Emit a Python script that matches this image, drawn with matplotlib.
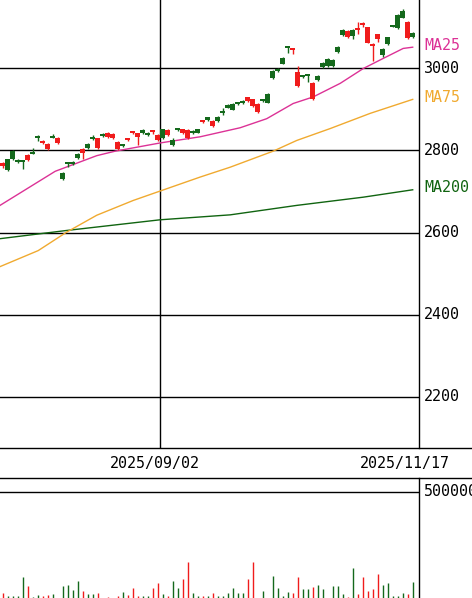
import matplotlib
matplotlib.use('Agg')
import matplotlib.pyplot as plt
from matplotlib.lines import Line2D
import numpy as np

plt.rcParams['font.family'] = ['DejaVu Sans Mono']

# daily candles, oldest first
opens = [2770, 2751, 2778, 2771, 2771, 2788, 2792, 2830, 2822, 2816,
         2831, 2831, 2731, 2766, 2766, 2782, 2804, 2806, 2827, 2829,
         2835, 2843, 2839, 2820, 2811, 2829, 2844, 2841, 2841, 2837,
         2846, 2838, 2829, 2849, 2812, 2850, 2851, 2849, 2842, 2843,
         2873, 2875, 2871, 2872, 2891, 2904, 2899, 2912, 2914, 2929,
         2924, 2912, 2919, 2916, 2975, 2993, 3011, 3048, 3045, 2991,
         2978, 2980, 2965, 2971, 3003, 3006, 3005, 3040, 3081, 3091,
         3078, 3095, 3109, 3099, 3059, 3082, 3032, 3059, 3101, 3097,
         3123, 3112, 3075]
closes = [2761, 2778, 2798, 2776, 2773, 2776, 2796, 2832, 2818, 2804,
          2833, 2818, 2745, 2768, 2771, 2790, 2794, 2816, 2829, 2806,
          2839, 2833, 2829, 2804, 2813, 2824, 2842, 2833, 2849, 2843,
          2844, 2824, 2851, 2838, 2824, 2852, 2842, 2829, 2847, 2851,
          2869, 2877, 2859, 2881, 2893, 2910, 2912, 2916, 2920, 2920,
          2908, 2894, 2921, 2938, 2993, 2999, 3025, 3050, 3043, 2956,
          2980, 2982, 2924, 2981, 3012, 3022, 3020, 3052, 3094, 3075,
          3094, 3093, 3105, 3062, 3054, 3071, 3046, 3075, 3103, 3129,
          3139, 3074, 3086]
highs = [2772, 2780, 2801, 2778, 2775, 2790, 2805, 2837, 2824, 2818,
         2839, 2833, 2747, 2770, 2773, 2794, 2806, 2818, 2837, 2831,
         2841, 2845, 2841, 2822, 2815, 2831, 2847, 2843, 2851, 2845,
         2849, 2840, 2853, 2851, 2829, 2854, 2853, 2851, 2849, 2853,
         2875, 2881, 2873, 2883, 2902, 2912, 2914, 2918, 2922, 2931,
         2926, 2914, 2923, 2940, 2995, 3001, 3027, 3052, 3047, 3006,
         2982, 2984, 2967, 2983, 3014, 3024, 3022, 3054, 3096, 3093,
         3096, 3113, 3113, 3101, 3061, 3084, 3048, 3077, 3105, 3131,
         3143, 3114, 3088]
lows = [2758, 2749, 2776, 2769, 2754, 2774, 2790, 2823, 2816, 2802,
        2829, 2816, 2729, 2759, 2764, 2780, 2780, 2804, 2824, 2804,
        2833, 2831, 2827, 2802, 2809, 2822, 2839, 2812, 2839, 2835,
        2839, 2822, 2827, 2836, 2810, 2848, 2840, 2827, 2840, 2841,
        2867, 2871, 2857, 2870, 2885, 2902, 2897, 2910, 2912, 2918,
        2906, 2891, 2917, 2914, 2973, 2991, 3009, 3038, 3034, 2954,
        2976, 2967, 2922, 2969, 3001, 3004, 3003, 3038, 3079, 3073,
        3072, 3083, 3100, 3060, 3018, 3064, 3026, 3057, 3100, 3095,
        3121, 3070, 3073]
volumes = [25000, 11000, 11000, 11000, 100000, 58000, 6000, 14000, 11000, 14000,
           17000, 0, 58000, 61000, 39000, 80000, 33000, 17000, 17000, 22000,
           0, 6000, 0, 11000, 30000, 14000, 46000, 11000, 11000, 11000,
           49000, 72000, 17000, 11000, 82000, 49000, 90000, 171000, 25000, 11000,
           11000, 11000, 22000, 11000, 11000, 22000, 49000, 25000, 22000, 90000,
           171000, 0, 34000, 0, 105000, 49000, 11000, 30000, 22000, 100000,
           41000, 41000, 53000, 61000, 44000, 0, 58000, 58000, 17000, 6000,
           143000, 17000, 98000, 34000, 41000, 113000, 61000, 69000, 11000, 11000,
           22000, 17000, 77000]

# moving averages at a few points (candle index, price)
ma25_x = [-0.54, 10.5, 18.8, 22.5, 31.5, 39.5, 47.5, 52.8, 58.1, 62.1, 67.5, 72.1, 75.5, 80.1, 82.0]
ma25_y = [2666, 2749, 2787, 2798, 2818, 2833, 2855, 2877, 2914, 2930, 2963, 2999, 3020, 3048, 3051]
ma75_x = [-0.54, 7.1, 12.8, 18.8, 26.1, 31.5, 39.5, 45.5, 54.1, 58.8, 65.5, 73.5, 82.0]
ma75_y = [2517, 2556, 2601, 2642, 2678, 2701, 2735, 2759, 2798, 2824, 2853, 2890, 2924]
ma200_x = [-0.54, 12.8, 31.5, 45.5, 58.8, 72.1, 82.0]
ma200_y = [2585, 2605, 2631, 2643, 2666, 2686, 2704]

price_ticks = [2200, 2400, 2600, 2800, 3000]
date_line_x = 31.46
date_labels = ['2025/09/02', '2025/11/17']
vol_line = 500000

GREEN = '#14691c'
RED = '#f01c1c'
C25 = '#dc3296'
C75 = '#f0aa30'
C200 = '#106410'

W, H = 472, 598
fig = plt.figure(figsize=(W / 100, H / 100), dpi=100)
ax = fig.add_axes([0, 1 - 448 / H, 419 / W, 448 / H])
vax = fig.add_axes([0, 0, 419 / W, 120 / H])

x = np.arange(len(opens))
o, h, l, c = map(np.array, (opens, highs, lows, closes))
cols = np.where(c >= o, GREEN, RED)

# price panel
for yt in price_ticks:
    ax.axhline(yt, color='black', lw=1.0, zorder=1)
ax.axvline(date_line_x, color='black', lw=1.0, zorder=1)

ax.plot(ma200_x, ma200_y, color=C200, lw=1.0, zorder=2)
ax.plot(ma75_x, ma75_y, color=C75, lw=1.0, zorder=2)
ax.plot(ma25_x, ma25_y, color=C25, lw=1.0, zorder=2)

ax.vlines(x, l, h, colors=cols, lw=1.0, zorder=3)
ax.bar(x, np.maximum(np.abs(c - o), 5), bottom=np.minimum(o, c),
       width=0.95, color=cols, lw=0, zorder=4)

ax.set_xlim(-2.7 / 5, (419 - 2.7) / 5)
ax.set_ylim(2200 - (448 - 397) * 200 / 82, 3000 + 68 * 200 / 82)
ax.set_xticks([])
ax.set_yticks([])
for s in ax.spines.values():
    s.set_visible(False)

tx = 424 / 419
for yt in price_ticks:
    ax.text(tx, yt, str(yt), transform=ax.get_yaxis_transform(),
            va='center', ha='left', fontsize=10.8, color='black', clip_on=False)
for name, yv, col in [('MA25', ma25_y[-1], C25), ('MA75', ma75_y[-1], C75),
                      ('MA200', ma200_y[-1], C200)]:
    ax.text(tx, yv + 5, name, transform=ax.get_yaxis_transform(),
            va='center', ha='left', fontsize=10.8, color=col, clip_on=False)

# date band
fig.text(155 / W, 1 - 463.5 / H, date_labels[0], ha='center', va='center', fontsize=10.8)
fig.text(404.5 / W, 1 - 463.5 / H, date_labels[1], ha='center', va='center', fontsize=10.8)

# volume panel
vax.axhline(vol_line, color='black', lw=1.0)
vax.vlines(x, 0, volumes, colors=cols, lw=1.0)
vax.set_xlim(ax.get_xlim())
vax.set_ylim(0, vol_line * (598 - 478) / (598 - 492))
vax.set_xticks([])
vax.set_yticks([])
for s in vax.spines.values():
    s.set_visible(False)
# the reference crops this label at the right edge too
vax.text(tx, vol_line, str(vol_line), transform=vax.get_yaxis_transform(),
         va='center', ha='left', fontsize=10.8, clip_on=False)

# frame lines
for yy in (448, 478):
    fig.add_artist(Line2D([0, 1], [1 - yy / H] * 2, transform=fig.transFigure,
                          color='black', lw=1.0))
for y0, y1 in ((0, 448), (478, 598)):
    fig.add_artist(Line2D([419 / W] * 2, [1 - y0 / H, 1 - y1 / H],
                          transform=fig.transFigure, color='black', lw=1.0))

fig.savefig('out.png', dpi=100, facecolor='white')
